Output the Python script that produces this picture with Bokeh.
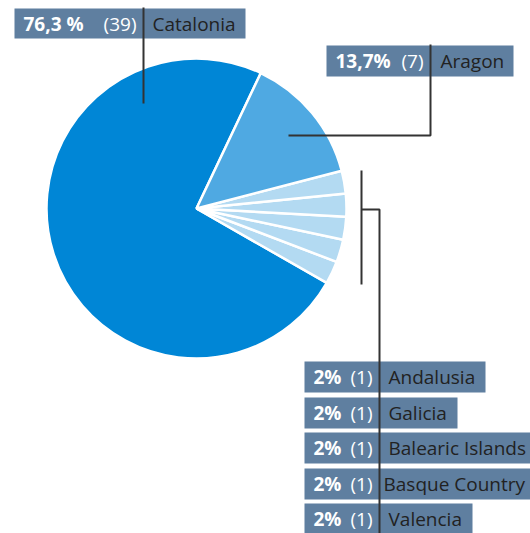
import numpy as np
from bokeh.plotting import figure
from bokeh.models import Range1d, ColumnDataSource
from bokeh.core.properties import value
from bokeh.embed import file_html
from bokeh.resources import INLINE

# ---- data ----
regions = ["Catalonia", "Aragon", "Andalusia", "Galicia", "Balearic Islands", "Basque Country", "Valencia"]
counts = [39, 7, 1, 1, 1, 1, 1]
pct_labels = ["76,3 %", "13,7%", "2%", "2%", "2%", "2%", "2%"]
# slice shares as drawn in the picture (percent of the full circle)
drawn_share = [73.8, 13.9, 2.46, 2.46, 2.46, 2.46, 2.46]
slice_colors = ["#0086D6", "#4FA9E2", "#B3DAF2", "#B3DAF2", "#B3DAF2", "#B3DAF2", "#B3DAF2"]

W, H = 530, 533
def fy(y):
    return H - y

p = figure(width=W, height=H, output_backend="svg", toolbar_location=None,
           x_range=Range1d(0, W), y_range=Range1d(0, H), min_border=0)
p.axis.visible = False
p.grid.visible = False
p.outline_line_color = None
p.background_fill_color = "white"

# ---- pie ----
cx, cy, r = 196, fy(208), 150
start0 = np.deg2rad(64.6)  # Catalonia's upper edge, going counter-clockwise
order = [0, 6, 5, 4, 3, 2, 1]
tot = sum(drawn_share)
starts, ends, cols = [], [], []
a = start0
for i in order:
    span = drawn_share[i] / tot * 2 * np.pi
    starts.append(a)
    ends.append(a + span)
    cols.append(slice_colors[i])
    a += span
src = ColumnDataSource(dict(x=[cx] * 7, y=[cy] * 7, s=starts, e=ends, c=cols))
p.wedge(x="x", y="y", radius=r, start_angle="s", end_angle="e", fill_color="c",
        line_color="white", line_width=2.5, source=src)

# ---- label boxes ----
box_color = "#5F7FA0"
layout = [
    (14, 245, 8, 38, 143),
    (326, 513, 45, 76, 430),
    (304, 485, 361, 392, 379),
    (304, 457, 397, 428, 379),
    (304, 530, 432, 463, 379),
    (304, 530, 468, 499, 379),
    (304, 472, 503, 533, 379),
]
name_off = [9, 10, 9, 9, 9, 4, 9]
p.quad(left=[l[0] for l in layout], right=[l[1] for l in layout],
       top=[fy(l[2]) for l in layout], bottom=[fy(l[3]) for l in layout],
       fill_color=box_color, line_color=None)

pct_x = [l[0] + 9 for l in layout]
mid_y = [fy((l[2] + l[3]) / 2) for l in layout]
p.text(x=pct_x, y=mid_y, text=pct_labels, text_font=value("Open Sans"), text_font_style="bold",
       text_font_size="19px", text_color="white", text_baseline="middle", text_align="left")
p.text(x=[l[4] - 7 for l in layout], y=mid_y, text=["(%d)" % c for c in counts],
       text_font=value("Open Sans"), text_font_size="19px", text_color="#FFFFFF",
       text_baseline="middle", text_align="right")
p.text(x=[l[4] + o for l, o in zip(layout, name_off)], y=mid_y, text=regions,
       text_font=value("Open Sans"), text_font_size="19px", text_color="#222222",
       text_baseline="middle", text_align="left")

# ---- leader lines ----
lc = "#333333"
lw = 2
p.line([143, 143], [fy(7), fy(103)], line_color=lc, line_width=lw)
p.line([430, 430, 288], [fy(44), fy(135), fy(135)], line_color=lc, line_width=lw)
p.line([361, 361], [fy(170), fy(284)], line_color=lc, line_width=lw)
p.line([361, 379, 379], [fy(209), fy(209), fy(533)], line_color=lc, line_width=lw)

open("out.html", "w").write(file_html(p, INLINE))
